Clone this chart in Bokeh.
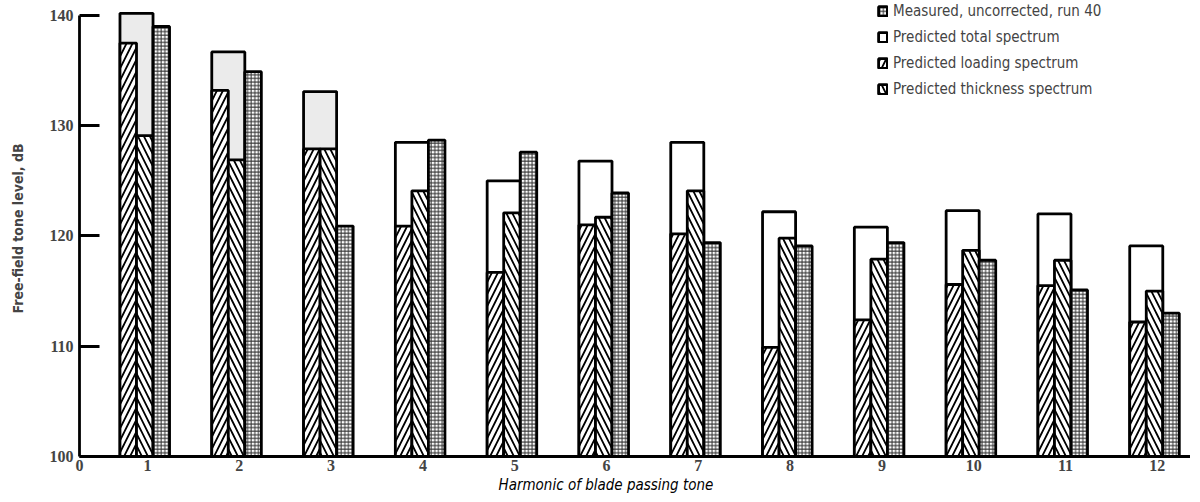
from bokeh.plotting import figure
from bokeh.models import (ColumnDataSource, FixedTicker, CustomJSTickFormatter,
                          Legend, LegendItem, Range1d, Title)
from bokeh.transform import dodge
from bokeh.embed import file_html
from bokeh.resources import INLINE

harmonics = [1, 2, 3, 4, 5, 6, 7, 8, 9, 10, 11, 12]
measured = [139.0, 134.9, 120.9, 128.7, 127.6, 123.9, 119.4, 119.1, 119.4, 117.8, 115.1, 113.0]
total = [140.2, 136.7, 133.1, 128.5, 125.0, 126.8, 128.5, 122.2, 120.8, 122.3, 122.0, 119.1]
loading = [137.5, 133.2, 127.9, 120.9, 116.7, 121.0, 120.2, 109.9, 112.4, 115.6, 115.5, 112.2]
thickness = [129.1, 126.9, 127.9, 124.1, 122.1, 121.7, 124.1, 119.8, 117.9, 118.7, 117.8, 115.0]
y_ticks = [100, 110, 120, 130, 140]
x_ticks = [0.259] + harmonics
x_title = "Harmonic of blade passing tone"
y_title = "Free-field tone level, dB"
# light stipple shading of the total-spectrum boxes (style only)
total_fill = ["#ebebeb"] * 3 + ["white"] * 9

src = ColumnDataSource(dict(h=harmonics, measured=measured, total=total,
                            loading=loading, thickness=thickness,
                            total_fill=total_fill))

p = figure(width=1190, height=494, output_backend="svg", toolbar_location=None,
           x_range=Range1d(0.259, 12.362), y_range=Range1d(100, 141.36),
           min_border_left=79, min_border_right=0, min_border_top=0,
           min_border_bottom=38)
p.outline_line_color = None
p.grid.visible = False
p.background_fill_color = "white"

BW = 0.18
LW = 2.8

r_total = p.vbar(x=dodge("h", -0.12, range=p.x_range), top="total", bottom=100,
                 width=2 * BW, source=src, fill_color="total_fill",
                 line_color="black", line_width=LW)
r_load = p.vbar(x=dodge("h", -0.21, range=p.x_range), top="loading", bottom=100,
                width=BW, source=src, fill_color="white", line_color="black",
                line_width=LW, hatch_pattern="right_diagonal_line",
                hatch_color="black", hatch_weight=1.8, hatch_scale=12)
r_thick = p.vbar(x=dodge("h", -0.03, range=p.x_range), top="thickness", bottom=100,
                 width=BW, source=src, fill_color="white", line_color="black",
                 line_width=LW, hatch_pattern="left_diagonal_line",
                 hatch_color="black", hatch_weight=1.8, hatch_scale=12)
r_meas = p.vbar(x=dodge("h", 0.15, range=p.x_range), top="measured", bottom=100,
                width=BW, source=src, fill_color="white", line_color="black",
                line_width=LW, hatch_pattern="cross", hatch_color="#333333",
                hatch_weight=1.0, hatch_scale=3.6)

# axes
xa = p.xaxis[0]
xa.ticker = FixedTicker(ticks=x_ticks)
xa.formatter = CustomJSTickFormatter(code="return Math.round(tick).toString();")
xa.major_tick_in = 0
xa.major_tick_out = 0
xa.minor_tick_line_color = None
xa.axis_line_width = 2.8
xa.major_label_standoff = 3
xa.major_label_text_font = "Liberation Serif"
xa.major_label_text_font_style = "bold"
xa.major_label_text_font_size = "16px"

ya = p.yaxis[0]
ya.ticker = FixedTicker(ticks=y_ticks)
ya.bounds = (100, 140)
ya.major_tick_in = 20
ya.major_tick_out = 0
ya.major_tick_line_width = 2.8
ya.minor_tick_line_color = None
ya.axis_line_width = 2.8
ya.major_label_standoff = 6
ya.major_label_text_font = "Liberation Serif"
ya.major_label_text_font_style = "bold"
ya.major_label_text_font_size = "16px"
ya.axis_label = y_title
ya.axis_label_text_font = "DejaVu Sans Condensed"
ya.axis_label_text_font_style = "bold"
ya.axis_label_text_font_size = "14px"
ya.axis_label_standoff = 21

p.add_layout(Title(text=x_title, align="left", offset=419, standoff=0,
                   text_font="DejaVu Sans Condensed", text_font_style="italic",
                   text_font_size="15px", text_color="black"), "below")

legend = Legend(items=[
    LegendItem(label="Measured, uncorrected, run 40", renderers=[r_meas]),
    LegendItem(label="Predicted total spectrum", renderers=[r_total], index=5),
    LegendItem(label="Predicted loading spectrum", renderers=[r_load]),
    LegendItem(label="Predicted thickness spectrum", renderers=[r_thick]),
], location=(798, 358), padding=0, margin=0, spacing=8, label_height=16,
   glyph_height=12, glyph_width=11, label_standoff=5,
   label_text_font="DejaVu Sans Condensed", label_text_font_size="15px",
   border_line_color=None, background_fill_alpha=0)
p.add_layout(legend, "center")

open("out.html", "w").write(file_html(p, INLINE))
